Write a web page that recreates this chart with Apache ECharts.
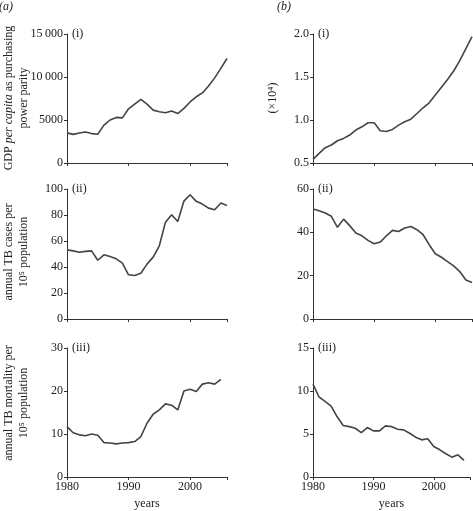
<!DOCTYPE html>
<html><head><meta charset="utf-8">
<script src="https://cdn.jsdelivr.net/npm/echarts@6/dist/echarts.min.js"></script>
<style>html,body{margin:0;padding:0;background:#fff}#c{width:473px;height:511px}</style>
</head><body><div id="c"></div>
<script>
const years = [1980,1981,1982,1983,1984,1985,1986,1987,1988,1989,1990,1991,1992,1993,1994,1995,1996,1997,1998,1999,2000,2001,2002,2003,2004,2005,2006];
const xTicks = [1980,1990,2000];
// (a) panels
const gdpA = [3500,3330,3480,3600,3420,3350,4400,5000,5300,5250,6300,6850,7400,6850,6150,5950,5850,6050,5750,6350,7100,7700,8150,8950,9900,11000,12150];
const casesA = [53.2,52.4,51.4,52,52.4,45.2,49.4,48,46.3,43,34,33.4,35.2,42.2,47.6,56.3,74.5,80.2,75,90.7,95.6,90.5,88.4,85.3,84,89.2,87.4];
const mortA = [11.7,10.3,9.8,9.6,10,9.7,8.0,7.9,7.7,7.9,8.0,8.25,9.4,12.5,14.6,15.6,17,16.7,15.6,20,20.4,19.9,21.6,21.9,21.6,22.7];
// (b) panels
const gdpB = [0.543,0.612,0.678,0.709,0.759,0.786,0.825,0.883,0.921,0.968,0.968,0.875,0.867,0.89,0.94,0.98,1.01,1.076,1.142,1.20,1.29,1.38,1.47,1.57,1.69,1.83,1.97];
const casesB = [50.8,50,48.9,47.4,42.3,46.1,43.1,39.7,38.4,36.3,34.7,35.5,38.4,40.9,40.4,42,42.7,41.2,38.9,34.3,30.1,28.5,26.5,24.5,21.9,18,16.8];
const mortB = [10.8,9.3,8.8,8.25,7.0,5.98,5.86,5.67,5.17,5.75,5.36,5.36,5.94,5.86,5.55,5.48,5.09,4.63,4.32,4.44,3.55,3.16,2.7,2.31,2.58,1.93];
const yRanges = [[0,15000,5000],[0,100,20],[0,30,10],[0.5,2.0,0.5],[0,60,20],[0,15,5]];
const panelLabels = ['(i)','(ii)','(iii)','(i)','(ii)','(iii)'];
const seriesData = [gdpA, casesA, mortA, gdpB, casesB, mortB];

const FONT = '"Liberation Serif", "Times New Roman", serif';
const tops = [34, 189, 348];
const heights = [129, 130, 129];
const lefts = [67, 313];
const widths = [160, 159];

const grids = [], xAxes = [], yAxes = [], series = [];
for (let c = 0; c < 2; c++) {
  for (let r = 0; r < 3; r++) {
    const i = c*3 + r;
    grids.push({left: lefts[c], top: tops[r], width: widths[c], height: heights[r], containLabel: false});
    xAxes.push({
      type: 'value', gridIndex: i, min: 1980, max: 2006, interval: 10,
      axisLine: {show: true, lineStyle: {color: '#333', width: 1}},
      axisTick: {show: true, length: 3, lineStyle: {color: '#333'}},
      splitLine: {show: false},
      axisLabel: {show: r === 2, margin: 4, color: '#222', fontFamily: FONT, fontSize: 12,
        formatter: v => xTicks.indexOf(v) >= 0 ? String(v) : ''},
      name: r === 2 ? 'years' : '', nameLocation: 'middle', nameGap: 21,
      nameTextStyle: {fontFamily: FONT, fontSize: 12, color: '#222'}
    });
    const yr = yRanges[i];
    yAxes.push({
      type: 'value', gridIndex: i, min: yr[0], max: yr[1], interval: yr[2],
      axisLine: {show: true, lineStyle: {color: '#333', width: 1}},
      axisTick: {show: true, length: 3, lineStyle: {color: '#333'}},
      splitLine: {show: false},
      axisLabel: {margin: 4, color: '#222', fontFamily: FONT, fontSize: 12,
        formatter: v => {
          if (i === 3) return v.toFixed(1);
          if (v >= 10000) { const s = String(v); return s.slice(0, s.length-3) + '\u2009' + s.slice(-3); }
          return String(v);
        }}
    });
    const d = seriesData[i];
    series.push({
      type: 'line', xAxisIndex: i, yAxisIndex: i, symbol: 'none',
      lineStyle: {color: '#444', width: 1.6}, animation: false,
      data: d.map((v, k) => [years[k], v])
    });
  }
}

const T = (x, y, text, extra) => Object.assign({type: 'text', x: x, y: y, silent: true,
  style: Object.assign({text: text, fill: '#222', font: '12px ' + FONT, textAlign: 'center', textVerticalAlign: 'middle'}, extra || {})});

const graphic = [
  T(6, 7, '(a)', {font: 'italic 12px ' + FONT}),
  T(284, 7, '(b)', {font: 'italic 12px ' + FONT}),
];
for (let c = 0; c < 2; c++) for (let r = 0; r < 3; r++) {
  graphic.push(T(lefts[c] + 5, tops[r], panelLabels[c*3+r], {textAlign: 'left'}));
}
const rot = (x, y, style) => ({type: 'text', x: x, y: y, rotation: Math.PI/2, silent: true,
  style: Object.assign({fill: '#222', font: '12px ' + FONT, textAlign: 'center', textVerticalAlign: 'middle'}, style)});
graphic.push(rot(16, 98, {
  text: '{n|GDP }{i|per capita}{n| as purchasing}\n{n|power parity}',
  lineHeight: 15,
  rich: {n: {fontFamily: FONT, fontSize: 12, fill: '#222', lineHeight: 15}, i: {fontFamily: FONT, fontSize: 12, fontStyle: 'italic', fill: '#222', lineHeight: 15}}
}));
graphic.push(rot(16, 252, {text: 'annual TB cases per\n10\u2075 population', lineHeight: 15}));
graphic.push(rot(16, 403, {text: 'annual TB mortality per\n10\u2075 population', lineHeight: 15}));
graphic.push(rot(273, 98, {text: '(\u00d710\u2074)'}));

const chart = echarts.init(document.getElementById('c'), null, {renderer: 'canvas'});
chart.setOption({
  animation: false,
  backgroundColor: '#fff',
  textStyle: {fontFamily: FONT},
  grid: grids, xAxis: xAxes, yAxis: yAxes, series: series, graphic: graphic
});
</script></body></html>
